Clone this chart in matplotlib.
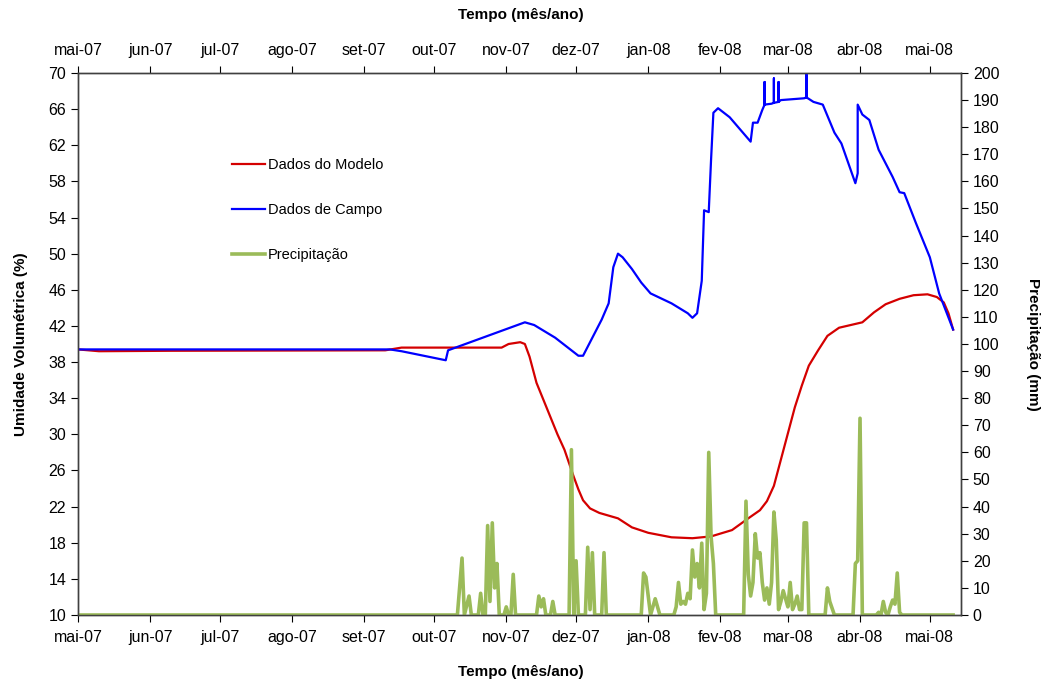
import matplotlib
matplotlib.use("Agg")
import matplotlib.pyplot as plt
from matplotlib.lines import Line2D
import pandas as pd

plt.rcParams['font.family'] = ['Liberation Sans', 'DejaVu Sans']

# ---------------- data ----------------
model_dates = ["2007-05-01", "2007-05-10", "2007-06-10", "2007-09-10", "2007-09-17",
               "2007-10-28", "2007-10-30", "2007-11-02", "2007-11-07", "2007-11-09",
               "2007-11-11", "2007-11-14", "2007-11-17", "2007-11-20", "2007-11-23",
               "2007-11-26", "2007-11-30", "2007-12-02", "2007-12-04", "2007-12-07",
               "2007-12-11", "2007-12-19", "2007-12-25", "2008-01-01", "2008-01-11",
               "2008-01-20", "2008-01-28", "2008-02-06", "2008-02-13", "2008-02-18",
               "2008-02-21", "2008-02-24", "2008-02-27", "2008-03-01", "2008-03-04",
               "2008-03-07", "2008-03-10", "2008-03-14", "2008-03-18", "2008-03-23",
               "2008-04-02", "2008-04-07", "2008-04-12", "2008-04-18", "2008-04-24",
               "2008-04-30", "2008-05-04", "2008-05-07", "2008-05-09", "2008-05-11"]
model_vals = [39.4, 39.2, 39.25, 39.3, 39.6,
              39.6, 39.6, 40.0, 40.2, 40.0,
              38.6, 35.7, 33.8, 31.9, 30.0,
              28.3, 25.3, 23.9, 22.7, 21.8,
              21.3, 20.7, 19.7, 19.1, 18.6,
              18.5, 18.7, 19.4, 20.7, 21.6,
              22.6, 24.3, 27.2, 30.1, 33.0,
              35.4, 37.6, 39.3, 40.9, 41.8,
              42.4, 43.5, 44.4, 45.0, 45.4,
              45.5, 45.2, 44.6, 43.4, 41.6]

field_dates = ["2007-05-01", "2007-09-12", "2007-09-17", "2007-10-06", "2007-10-07",
               "2007-11-09", "2007-11-13", "2007-11-22", "2007-12-02", "2007-12-04",
               "2007-12-12", "2007-12-15", "2007-12-17", "2007-12-19", "2007-12-21",
               "2007-12-25", "2007-12-29", "2008-01-02", "2008-01-11", "2008-01-18",
               "2008-01-20", "2008-01-22", "2008-01-24", "2008-01-25", "2008-01-27",
               "2008-01-28", "2008-01-29", "2008-01-31", "2008-02-05", "2008-02-14",
               "2008-02-15", "2008-02-17", "2008-02-19", "2008-02-20", "2008-02-20",
               "2008-02-20", "2008-02-23", "2008-02-24", "2008-02-24", "2008-02-24",
               "2008-02-26", "2008-02-26", "2008-02-26", "2008-02-27", "2008-03-03",
               "2008-03-08", "2008-03-09", "2008-03-09", "2008-03-09", "2008-03-12",
               "2008-03-16", "2008-03-21", "2008-03-24", "2008-03-30", "2008-03-31",
               "2008-03-31", "2008-04-02", "2008-04-05", "2008-04-09", "2008-04-15",
               "2008-04-18", "2008-04-20", "2008-04-25", "2008-05-01", "2008-05-05",
               "2008-05-11"]
field_vals = [39.4, 39.4, 39.2, 38.2, 39.3,
              42.4, 42.1, 40.7, 38.7, 38.7,
              42.7, 44.5, 48.5, 50.0, 49.6,
              48.3, 46.8, 45.6, 44.5, 43.4,
              42.9, 43.4, 47.0, 54.8, 54.6,
              60.4, 65.6, 66.1, 65.1, 62.4,
              64.5, 64.5, 65.9, 66.5, 69.0,
              66.5, 66.6, 66.7, 69.4, 66.7,
              66.8, 69.0, 66.8, 67.0, 67.1,
              67.2, 67.3, 69.8, 67.3, 66.8,
              66.5, 63.4, 62.2, 57.8, 58.9,
              66.5, 65.4, 64.8, 61.5, 58.5,
              56.8, 56.7, 53.4, 49.6, 45.6,
              41.6]

rain_dates = ["2007-05-01", "2007-10-11", "2007-10-13", "2007-10-14", "2007-10-16",
              "2007-10-17", "2007-10-20", "2007-10-21", "2007-10-22", "2007-10-23",
              "2007-10-24", "2007-10-25", "2007-10-26", "2007-10-27", "2007-10-28",
              "2007-10-29", "2007-10-31", "2007-11-01", "2007-11-02", "2007-11-03",
              "2007-11-04", "2007-11-05", "2007-11-14", "2007-11-15", "2007-11-16",
              "2007-11-17", "2007-11-18", "2007-11-20", "2007-11-21", "2007-11-22",
              "2007-11-28", "2007-11-29", "2007-11-30", "2007-12-01", "2007-12-02",
              "2007-12-05", "2007-12-06", "2007-12-07", "2007-12-08", "2007-12-09",
              "2007-12-12", "2007-12-13", "2007-12-14", "2007-12-29", "2007-12-30",
              "2007-12-31", "2008-01-02", "2008-01-04", "2008-01-06", "2008-01-12",
              "2008-01-13", "2008-01-14", "2008-01-15", "2008-01-16", "2008-01-17",
              "2008-01-18", "2008-01-19", "2008-01-20", "2008-01-21", "2008-01-22",
              "2008-01-23", "2008-01-24", "2008-01-25", "2008-01-26", "2008-01-27",
              "2008-01-28", "2008-01-29", "2008-01-30", "2008-02-11", "2008-02-12",
              "2008-02-13", "2008-02-14", "2008-02-15", "2008-02-16", "2008-02-17",
              "2008-02-18", "2008-02-19", "2008-02-20", "2008-02-21", "2008-02-22",
              "2008-02-23", "2008-02-24", "2008-02-25", "2008-02-26", "2008-02-27",
              "2008-02-28", "2008-02-29", "2008-03-01", "2008-03-02", "2008-03-03",
              "2008-03-04", "2008-03-05", "2008-03-06", "2008-03-07", "2008-03-08",
              "2008-03-09", "2008-03-10", "2008-03-17", "2008-03-18", "2008-03-19",
              "2008-03-20", "2008-03-21", "2008-03-29", "2008-03-30", "2008-03-31",
              "2008-04-01", "2008-04-02", "2008-04-08", "2008-04-09", "2008-04-10",
              "2008-04-11", "2008-04-12", "2008-04-13", "2008-04-14", "2008-04-15",
              "2008-04-16", "2008-04-17", "2008-04-18", "2008-04-19", "2008-05-11"]
rain_vals = [0, 0, 21, 0, 7,
             0, 0, 8, 0, 0,
             33, 5, 34, 10, 19,
             0, 0, 3, 0, 0,
             15, 0, 0, 7, 3,
             6, 0, 0, 5, 0,
             0, 61, 0, 20, 0,
             0, 25, 2, 23, 0,
             0, 23, 0, 0, 15.5,
             14, 0, 6, 0, 0,
             3, 12, 4, 5, 4,
             8, 6, 24, 14, 19,
             10, 26.5, 2, 8, 60,
             29, 19, 0, 0, 42,
             15, 7, 12, 30, 21,
             23, 12, 5.5, 10, 4,
             12, 38, 27.7, 2, 5,
             9, 6, 3, 12, 2,
             4, 7, 2, 2, 34,
             34, 0, 0, 10, 5,
             2.5, 0, 0, 19, 20,
             72.6, 0, 0, 1, 0,
             5, 1, 0, 3, 5.5,
             4, 15.5, 1, 0, 0]

month_ticks = ["2007-05-01", "2007-06-01", "2007-07-01", "2007-08-01", "2007-09-01",
               "2007-10-01", "2007-11-01", "2007-12-01", "2008-01-01", "2008-02-01",
               "2008-03-01", "2008-04-01", "2008-05-01"]
month_labels = ["mai-07", "jun-07", "jul-07", "ago-07", "set-07", "out-07", "nov-07",
                "dez-07", "jan-08", "fev-08", "mar-08", "abr-08", "mai-08"]

# ---------------- plot ----------------
fig = plt.figure(figsize=(10.5, 6.86), dpi=100)
ax = fig.add_axes([0.0743, 0.1035, 0.8410, 0.7901])
ax2 = ax.twinx()

red = "#d40000"
blue = "#0000ff"
green = "#9bbb59"

ax.plot(pd.to_datetime(model_dates), model_vals, color=red, lw=1.6, zorder=3)
ax.plot(pd.to_datetime(field_dates), field_vals, color=blue, lw=1.6, zorder=3)
ax2.plot(pd.to_datetime(rain_dates), rain_vals, color=green, lw=2.6, zorder=2)

ax.set_xlim(pd.Timestamp("2007-05-01"), pd.Timestamp("2008-05-14 10:00"))
ax.set_ylim(10, 70)
ax.set_yticks(range(10, 71, 4))
ax2.set_ylim(0, 200)
ax2.set_yticks(range(0, 201, 10))

ax.set_xticks(pd.to_datetime(month_ticks))
ax.set_xticklabels(month_labels)
ax.tick_params(axis='x', top=True, labeltop=True, bottom=True, labelbottom=True,
               direction='out', length=5, labelsize=11.5, pad=6)
ax.tick_params(axis='y', direction='out', length=5, labelsize=11.5)
ax2.tick_params(axis='y', direction='out', length=5, labelsize=11.5)

for a in (ax, ax2):
    for s in a.spines.values():
        s.set_color("#404040")
        s.set_linewidth(1.0)

lab_font = dict(fontsize=11, fontweight='bold')
ax.set_ylabel("Umidade Volumétrica (%)", labelpad=15, **lab_font)
ax2.set_ylabel("Precipitação (mm)", rotation=270, labelpad=29, **lab_font)
fig.text(0.496, 0.021, "Tempo (mês/ano)", ha='center', va='center', **lab_font)
fig.text(0.496, 0.978, "Tempo (mês/ano)", ha='center', va='center', **lab_font)

handles = [Line2D([], [], color=red, lw=1.6),
           Line2D([], [], color=blue, lw=1.6),
           Line2D([], [], color=green, lw=2.6)]
ax.legend(handles, ["Dados do Modelo", "Dados de Campo", "Precipitação"],
          loc='upper left', bbox_to_anchor=(0.160, 0.868), frameon=False,
          fontsize=10.5, labelspacing=2.15, handlelength=2.2, handletextpad=0.25)

fig.savefig("out.png", dpi=100, facecolor="white")
